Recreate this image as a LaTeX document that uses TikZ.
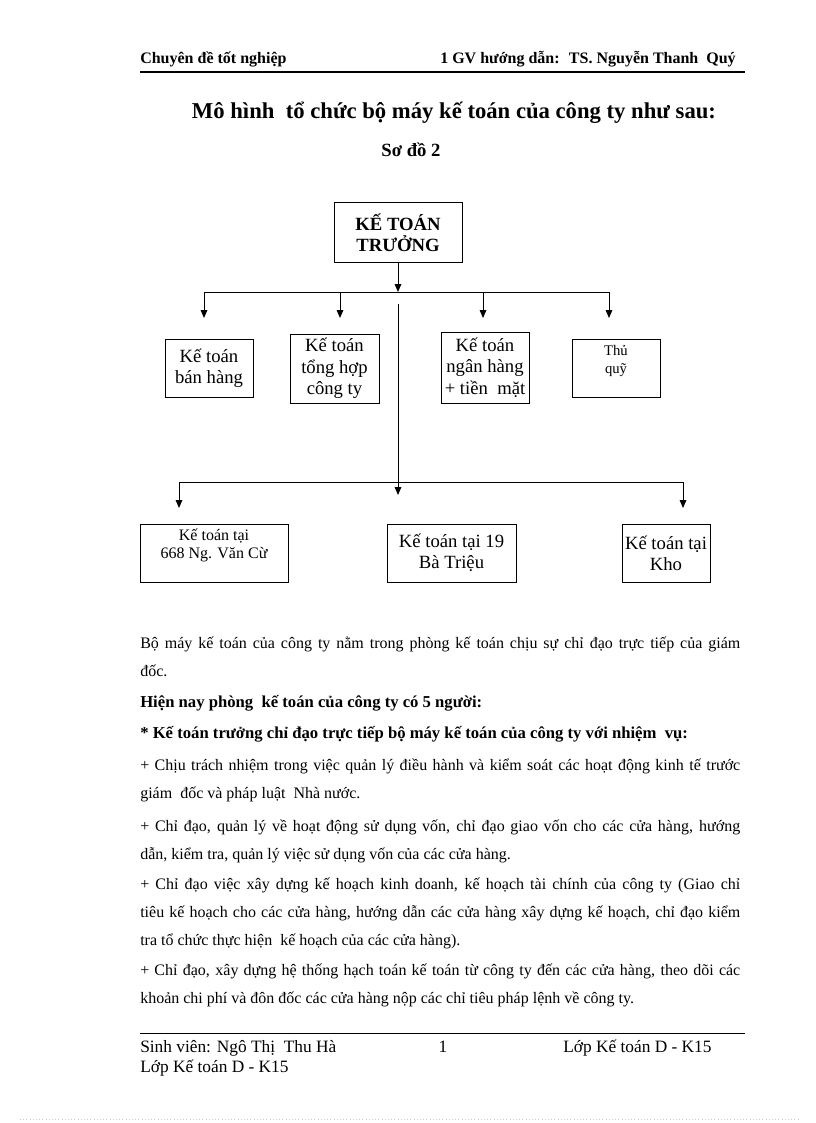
\documentclass[tikz,border=0pt]{standalone}
\usepackage{fontspec}
\setmainfont{Liberation Serif}
\usepackage{tikz}
\usetikzlibrary{arrows.meta, positioning}
\hyphenpenalty=10000
\newcommand{\fullline}[1]{\makebox[450pt][s]{\spaceskip=0pt\relax #1}}

\begin{document}
\begin{tikzpicture}[
    x=0.75pt, y=-0.75pt,
    >={Triangle[length=6pt, width=5pt]},
    box/.style={draw, line width=0.75pt, inner sep=0pt, align=center,
        font=\fontsize{14}{16}\selectfont},
    link/.style={line width=0.75pt},
    arrow link/.style={line width=0.75pt, ->},
    rule/.style={line width=1pt},
    line text/.style={anchor=base west, inner sep=0pt, font=\fontsize{13}{15}\selectfont},
    body/.style={anchor=base west, inner sep=0pt, text width=450pt, align=justify,
        font=\fontsize{12}{21}\selectfont},
    bold body/.style={body, font=\bfseries\fontsize{12.5}{21}\selectfont}
]
\useasboundingbox (0,0) rectangle (816,1123);

% ==================== HEADER ====================
\node[line text, font=\bfseries\fontsize{12}{14}\selectfont] (head left) at (140,64) {Chuyên đề tốt nghiệp};
\node[line text, anchor=base east, font=\bfseries\fontsize{12}{14}\selectfont] (head right) at (736,64) {1 GV hướng dẫn:~ TS. Nguyễn Thanh~ Quý};
\draw[rule] (140,72) -- (745,72);

% Title
\node[anchor=base, inner sep=0pt, font=\bfseries\fontsize{17}{20}\selectfont] (title) at (454,119) {Mô hình~ tổ chức bộ máy kế toán của công ty như sau:};
\node[anchor=base, inner sep=0pt, font=\bfseries\fontsize{14}{16}\selectfont] (chart no) at (411,157) {Sơ đồ 2};

% ==================== CHART ====================
\node[box, font=\bfseries\fontsize{14}{16}\selectfont, minimum width=96pt, minimum height=44.25pt] (chief) at (398,232.5) {KẾ TOÁN\\TRƯỞNG};

% Upper row
\node[box, minimum width=66pt, minimum height=43.5pt] (sales) at (209,368) {Kế toán\\bán hàng};
\node[box, minimum width=66.75pt, minimum height=51.75pt] (general) at (334.5,368.5) {Kế toán\\tổng hợp\\công ty};
\node[box, minimum width=66pt, minimum height=53.25pt] (bank) at (485,367.5) {Kế toán\\ngân hàng\\+ tiền~ mặt};
\node[box, font=\fontsize{11}{13}\selectfont, minimum width=66pt, minimum height=43.5pt] (cashier) at (616,368) {Thủ\\quỹ\\\mbox{}};

% Lower row
\node[box, font=\fontsize{12}{13.5}\selectfont, minimum width=111pt, minimum height=43.5pt] (shop one) at (214,553) {Kế toán tại\\668 Ng. Văn Cừ\\\mbox{}};
\node[box, minimum width=96.75pt, minimum height=43.5pt] (shop two) at (451.5,553) {Kế toán tại 19\\Bà Triệu};
\node[box, minimum width=66pt, minimum height=43.5pt] (store) at (666,553) {Kế toán tại\\Kho};

% Upper links
\coordinate (bus top L) at (204,292);
\coordinate (bus top R) at (609,292);
\coordinate (tip sales) at (204,318);
\coordinate (tip general) at (340,318);
\coordinate (tip bank) at (483,318);
\coordinate (tip cashier) at (609,318);
\draw[arrow link] (chief.south) -- (chief.south |- bus top L);
\draw[link] (bus top L) -- (bus top R);
\draw[arrow link] (bus top L) -- (tip sales);
\draw[arrow link] (tip general |- bus top L) -- (tip general);
\draw[arrow link] (tip bank |- bus top L) -- (tip bank);
\draw[arrow link] (bus top R) -- (tip cashier);

% Lower links
\coordinate (trunk) at (398,304);
\coordinate (trunk end) at (398,495);
\coordinate (bus low L) at (179,482);
\coordinate (bus low R) at (683,482);
\coordinate (tip shop one) at (179,508);
\coordinate (tip store) at (683,508);
\draw[arrow link] (trunk) -- (trunk end);
\draw[link] (bus low L) -- (bus low R);
\draw[arrow link] (bus low L) -- (tip shop one);
\draw[arrow link] (bus low R) -- (tip store);

% ==================== TEXT ====================
\node[body] (para one) at (140,648) {\fullline{Bộ máy kế toán của công ty nằm trong phòng kế toán chịu sự chỉ đạo trực tiếp của giám}\\ đốc.};
\node[bold body] (para two) at (140,707) {Hiện nay phòng~ kế toán của công ty có 5 người:};
\node[bold body] (para three) at (140,738) {* Kế toán trưởng chỉ đạo trực tiếp bộ máy kế toán của công ty với nhiệm~ vụ:};
\node[body] (para four) at (140,770) {\fullline{+ Chịu trách nhiệm trong việc quản lý điều hành và kiểm soát các hoạt động kinh tế trước}\\ giám~ đốc và pháp luật~ Nhà nước.};
\node[body] (para five) at (140,831) {\fullline{+ Chỉ đạo, quản lý về hoạt động sử dụng vốn, chỉ đạo giao vốn cho các cửa hàng, hướng}\\ dẫn, kiểm tra, quản lý việc sử dụng vốn của các cửa hàng.};
\node[body] (para six) at (140,889) {\fullline{+ Chỉ đạo việc xây dựng kế hoạch kinh doanh, kế hoạch tài chính của công ty (Giao chỉ}\\ \fullline{tiêu kế hoạch cho các cửa hàng, hướng dẫn các cửa hàng xây dựng kế hoạch, chỉ đạo kiểm}\\ tra tổ chức thực hiện~ kế hoạch của các cửa hàng).};
\node[body] (para seven) at (140,975) {\fullline{+ Chỉ đạo, xây dựng hệ thống hạch toán kế toán từ công ty đến các cửa hàng, theo dõi các}\\ khoản chi phí và đôn đốc các cửa hàng nộp các chỉ tiêu pháp lệnh về công ty.};

% ==================== FOOTER ====================
\draw[link] (140,1033) -- (745,1033);
\node[line text] (student) at (140,1052) {Sinh viên: Ngô Thị~ Thu Hà};
\node[line text, anchor=base] (page no) at (443,1052) {1};
\node[line text] (class right) at (563,1052) {Lớp Kế toán D - K15};
\node[line text] (class left) at (140,1072) {Lớp Kế toán D - K15};
\draw[gray!40, dotted] (20,1119) -- (800,1119);

\end{tikzpicture}
\end{document}
